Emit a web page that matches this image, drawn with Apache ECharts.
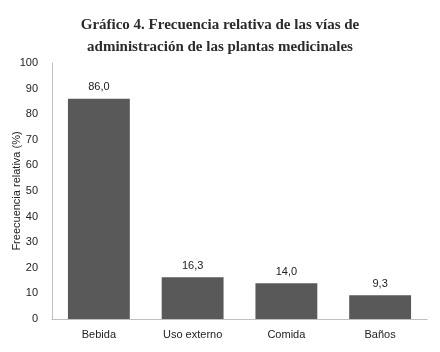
<!DOCTYPE html>
<html>
<head>
<meta charset="utf-8">
<script src="https://cdn.jsdelivr.net/npm/echarts@6/dist/echarts.min.js"></script>
<style>
  html, body { margin: 0; padding: 0; background: #fff; }
  #chart { width: 440px; height: 352px; }
</style>
</head>
<body>
<div id="chart"></div>
<script>
const categories = ['Bebida', 'Uso externo', 'Comida', 'Baños'];
const values = [86.0, 16.3, 14.0, 9.3];
const yTicks = [0, 10, 20, 30, 40, 50, 60, 70, 80, 90, 100];

const chart = echarts.init(document.getElementById('chart'));

const option = {
  animation: false,
  title: {
    text: 'Gráfico 4. Frecuencia relativa de las vías de\nadministración de las plantas medicinales',
    left: 'center',
    top: 9,
    textStyle: {
      fontFamily: 'Liberation Serif',
      fontWeight: 'bold',
      fontSize: 15,
      lineHeight: 22,
      color: '#2b2b2b'
    }
  },
  grid: {
    left: 52,
    right: 13,
    top: 63,
    bottom: 33,
    outerBoundsMode: 'none'
  },
  xAxis: {
    type: 'category',
    data: categories,
    axisLine: { lineStyle: { color: '#bfbfbf', width: 1 } },
    axisTick: { show: false },
    axisLabel: {
      color: '#222',
      fontFamily: 'Liberation Sans',
      fontSize: 11,
      margin: 10
    }
  },
  yAxis: {
    type: 'value',
    min: yTicks[0],
    max: yTicks[yTicks.length - 1],
    interval: 10,
    name: 'Freecuencia relativa (%)',
    nameLocation: 'middle',
    nameGap: 30,
    nameMoveOverlap: false,
    nameTextStyle: {
      color: '#222',
      fontFamily: 'Liberation Sans',
      fontSize: 11
    },
    axisLine: { show: true, lineStyle: { color: '#bfbfbf', width: 1 } },
    axisTick: { show: false },
    splitLine: { show: false },
    axisLabel: {
      color: '#222',
      fontFamily: 'Liberation Sans',
      fontSize: 11,
      margin: 14
    }
  },
  series: [
    {
      type: 'bar',
      data: values,
      barWidth: '66%',
      itemStyle: { color: '#595959' },
      label: {
        show: true,
        position: 'top',
        distance: 6,
        color: '#222',
        fontFamily: 'Liberation Sans',
        fontSize: 11,
        formatter: (p) => p.value.toFixed(1).replace('.', ',')
      }
    }
  ]
};

chart.setOption(option);
</script>
</body>
</html>
